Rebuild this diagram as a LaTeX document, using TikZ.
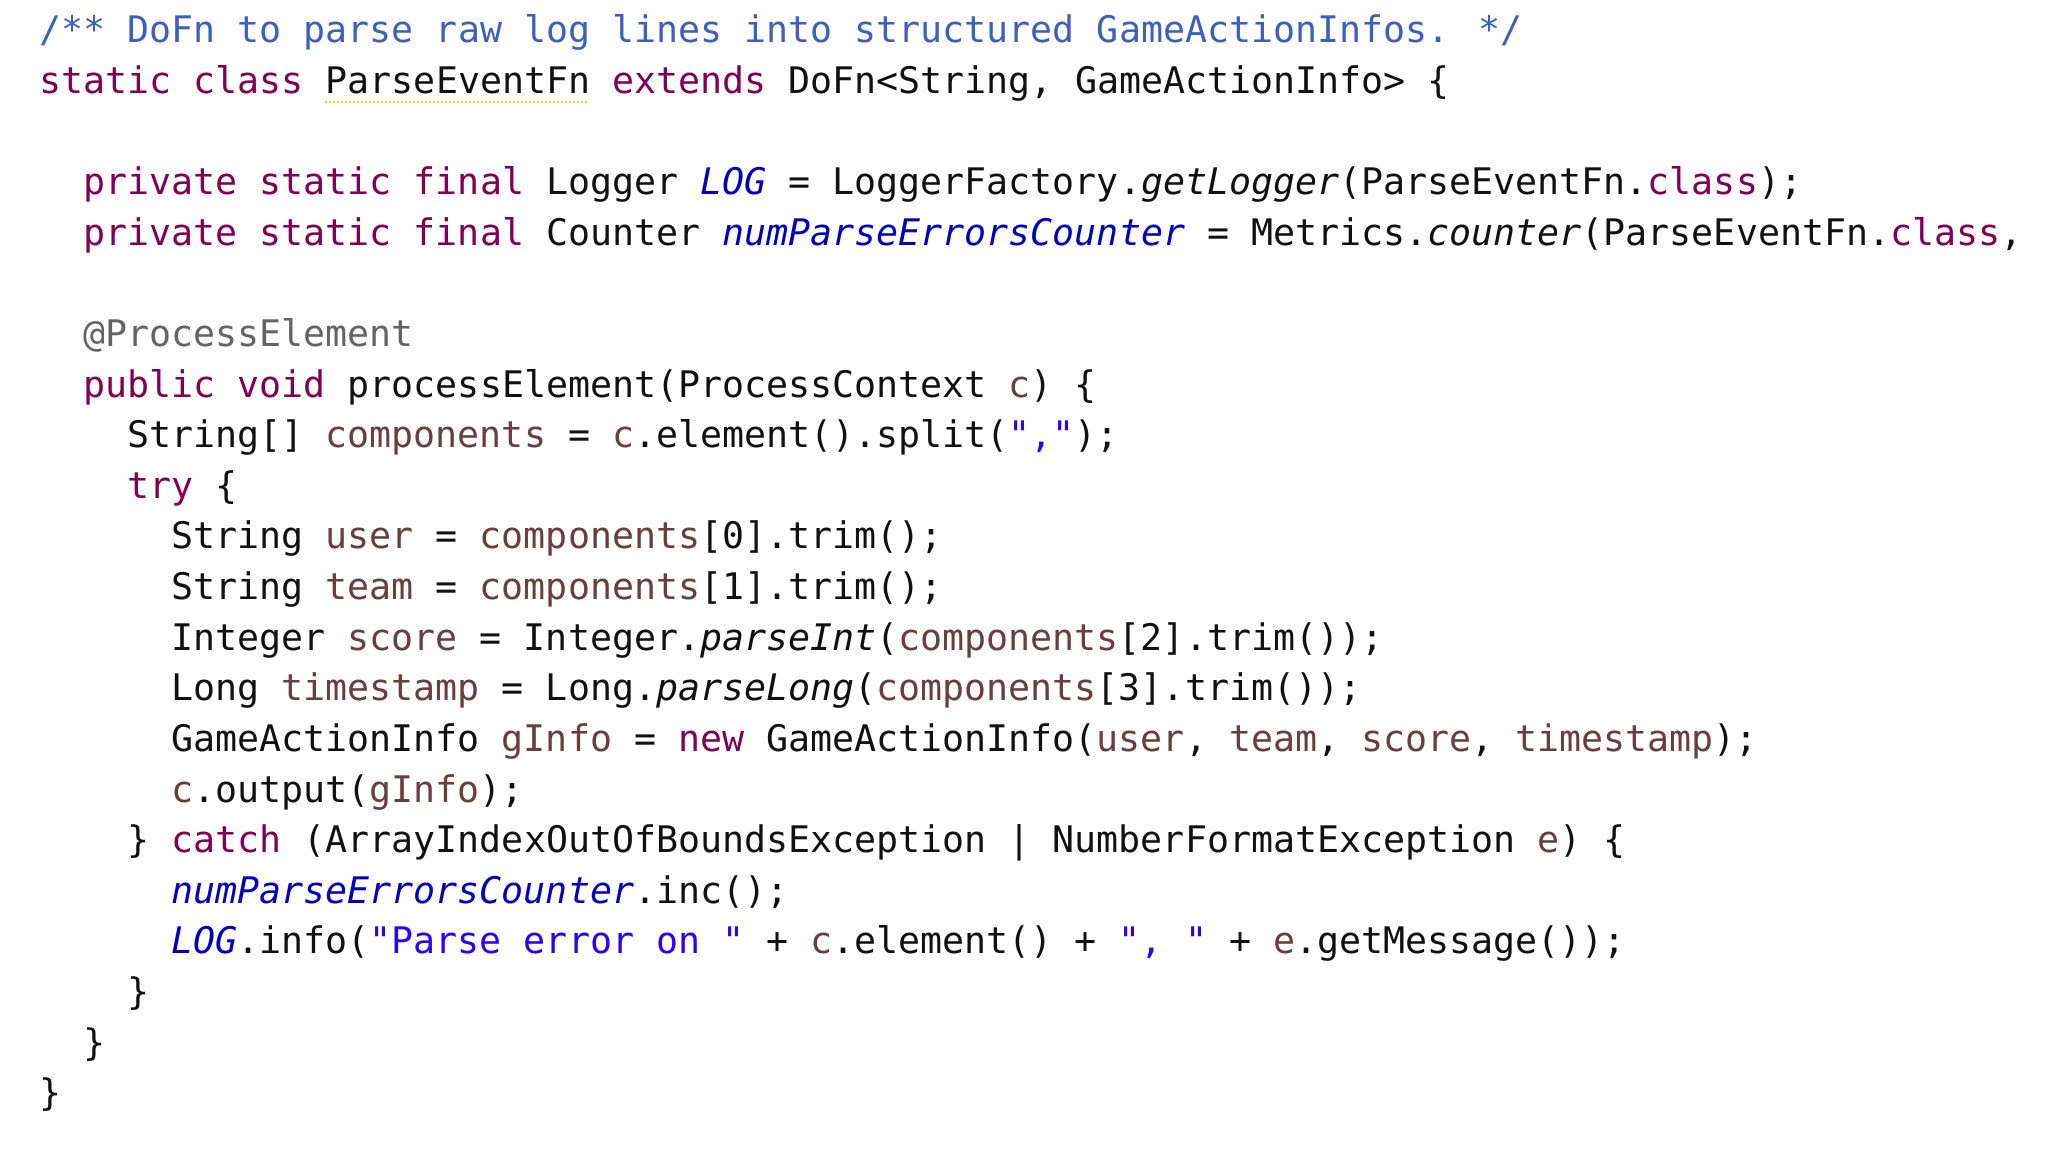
\documentclass[tikz,border=0pt]{standalone}
\usepackage{fontspec}
\newfontfamily\codefont{DejaVu Sans Mono}
\definecolor{kw}{HTML}{7F0055}
\definecolor{cm}{HTML}{3F5FBF}
\definecolor{fld}{HTML}{0000C0}
\definecolor{var}{HTML}{6A3E3E}
\definecolor{str}{HTML}{2A00FF}
\definecolor{ann}{HTML}{646464}
\definecolor{txt}{HTML}{111111}
\newcommand{\K}[1]{\textcolor{kw}{#1}}
\newcommand{\F}[1]{\textcolor{fld}{\itshape #1}}
\newcommand{\V}[1]{\textcolor{var}{#1}}
\newcommand{\Sq}[1]{\textcolor{str}{#1}}
\newcommand{\q}{\symbol{34}}
\begin{document}
\begin{tikzpicture}[x=1pt,y=1pt,
  codeline/.style={anchor=base west,inner sep=0pt,text=txt,font=\codefont\fontsize{18.3}{22}\selectfont}]
\fill[white] (0,0) rectangle (1024,576);
\useasboundingbox (0,0) rectangle (1024,576);
\clip (0,0) rectangle (1024,576);
\def\xo{19.5}
\def\ind{22}
\newcommand{\ly}[1]{576-21.5-25.3*#1}
\node[codeline] (l0) at (\xo,{\ly{0}}) {\textcolor{cm}{/** DoFn to parse raw log lines into structured GameActionInfos. */}};
\node[codeline] (l1) at (\xo,{\ly{1}}) {\K{static} \K{class} ParseEventFn \K{extends} DoFn<String, GameActionInfo> \{};
\node[codeline] (l3) at (\xo+\ind,{\ly{3}}) {\K{private} \K{static} \K{final} Logger \F{LOG} = LoggerFactory.{\itshape getLogger}(ParseEventFn.\K{class});};
\node[codeline] (l4) at (\xo+\ind,{\ly{4}}) {\K{private} \K{static} \K{final} Counter \F{numParseErrorsCounter} = Metrics.{\itshape counter}(ParseEventFn.\K{class},};
\node[codeline] (l6) at (\xo+\ind,{\ly{6}}) {\textcolor{ann}{@ProcessElement}};
\node[codeline] (l7) at (\xo+\ind,{\ly{7}}) {\K{public} \K{void} processElement(ProcessContext \V{c}) \{};
\node[codeline] (l8) at (\xo+2*\ind,{\ly{8}}) {String[] \V{components} = \V{c}.element().split(\Sq{\q,\q});};
\node[codeline] (l9) at (\xo+2*\ind,{\ly{9}}) {\K{try} \{};
\node[codeline] (l10) at (\xo+3*\ind,{\ly{10}}) {String \V{user} = \V{components}[0].trim();};
\node[codeline] (l11) at (\xo+3*\ind,{\ly{11}}) {String \V{team} = \V{components}[1].trim();};
\node[codeline] (l12) at (\xo+3*\ind,{\ly{12}}) {Integer \V{score} = Integer.{\itshape parseInt}(\V{components}[2].trim());};
\node[codeline] (l13) at (\xo+3*\ind,{\ly{13}}) {Long \V{timestamp} = Long.{\itshape parseLong}(\V{components}[3].trim());};
\node[codeline] (l14) at (\xo+3*\ind,{\ly{14}}) {GameActionInfo \V{gInfo} = \K{new} GameActionInfo(\V{user}, \V{team}, \V{score}, \V{timestamp});};
\node[codeline] (l15) at (\xo+3*\ind,{\ly{15}}) {\V{c}.output(\V{gInfo});};
\node[codeline] (l16) at (\xo+2*\ind,{\ly{16}}) {\} \K{catch} (ArrayIndexOutOfBoundsException | NumberFormatException \V{e}) \{};
\node[codeline] (l17) at (\xo+3*\ind,{\ly{17}}) {\F{numParseErrorsCounter}.inc();};
\node[codeline] (l18) at (\xo+3*\ind,{\ly{18}}) {\F{LOG}.info(\Sq{\q Parse error on \q} + \V{c}.element() + \Sq{\q, \q} + \V{e}.getMessage());};
\node[codeline] (l19) at (\xo+2*\ind,{\ly{19}}) {\}};
\node[codeline] (l20) at (\xo+\ind,{\ly{20}}) {\}};
\node[codeline] (l21) at (\xo,{\ly{21}}) {\}};
\draw[yellow!70!orange,densely dotted,line width=1pt] ([xshift=13*11pt,yshift=-4pt]l1.base west) -- ++(132,0);
\end{tikzpicture}
\end{document}
